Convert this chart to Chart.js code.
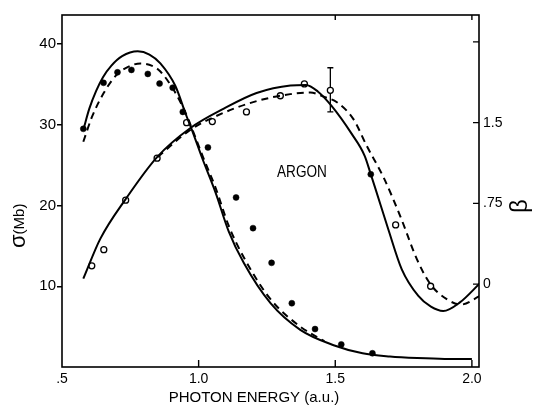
<!DOCTYPE html>
<html>
<head>
<meta charset="utf-8">
<script src="https://cdn.jsdelivr.net/npm/chart.js@4.4.0/dist/chart.umd.min.js"></script>
<style>
    html, body { margin: 0; padding: 0; background: #fff; }
    canvas { display: block; }
</style>
</head>
<body>
<canvas id="grafico" width="537" height="406"></canvas>
<script>
// sigma (Mb) - theory, solid and dashed
var sigmaSolidX = [0.579, 0.60, 0.625, 0.65, 0.68, 0.72, 0.777, 0.82, 0.86, 0.915, 0.952, 0.975, 1.015, 1.062, 1.11, 1.165, 1.263, 1.372, 1.494, 1.60, 1.70, 1.80, 1.90, 2.00];
var sigmaSolidY = [29.5, 32.0, 34.2, 35.9, 37.3, 38.5, 39.1, 38.7, 37.6, 34.8, 31.4, 29.4, 25.7, 21.6, 16.8, 12.9, 7.9, 4.6, 2.7, 1.7, 1.3, 1.1, 1.0, 1.0];
var sigmaDashX = [0.578, 0.61, 0.652, 0.70, 0.75, 0.787, 0.83, 0.86, 0.909, 0.952, 0.975, 1.015, 1.062, 1.11, 1.165, 1.263, 1.372, 1.46];
var sigmaDashY = [27.9, 31.0, 33.9, 36.2, 37.3, 37.6, 37.3, 36.6, 34.3, 31.5, 29.6, 26.1, 22.2, 17.5, 13.6, 8.4, 5.0, 3.2];

// sigma - measured (filled dots)
var sigmaDataX = [0.578, 0.652, 0.703, 0.754, 0.814, 0.857, 0.905, 0.942, 1.034, 1.137, 1.199, 1.267, 1.341, 1.426, 1.522, 1.636];
var sigmaDataY = [29.5, 35.2, 36.5, 36.8, 36.3, 35.1, 34.6, 31.6, 27.2, 21.0, 17.2, 12.9, 7.9, 4.7, 2.8, 1.7];

// beta - theory, solid and dashed
var betaSolidX = [0.578, 0.64, 0.733, 0.848, 0.97, 1.092, 1.212, 1.336, 1.393, 1.436, 1.485, 1.559, 1.608, 1.63, 1.644, 1.694, 1.743, 1.804, 1.85, 1.895, 1.956, 2.03];
var betaSolidY = [0.05, 0.42, 0.79, 1.18, 1.45, 1.63, 1.775, 1.845, 1.85, 1.79, 1.66, 1.40, 1.19, 1.02, 0.91, 0.51, 0.14, -0.11, -0.21, -0.25, -0.17, 0.01];
var betaDashX = [0.85, 0.968, 1.09, 1.212, 1.335, 1.409, 1.458, 1.506, 1.567, 1.616, 1.677, 1.738, 1.799, 1.848, 1.908, 1.96, 2.03];
var betaDashY = [1.18, 1.43, 1.59, 1.70, 1.765, 1.78, 1.74, 1.69, 1.53, 1.28, 0.99, 0.63, 0.23, 0.00, -0.14, -0.19, -0.11];

// beta - measured (open circles) + one filled point
var betaDataX = [0.609, 0.653, 0.733, 0.848, 0.956, 1.050, 1.175, 1.299, 1.387, 1.482, 1.721, 1.849];
var betaDataY = [0.17, 0.32, 0.78, 1.17, 1.50, 1.51, 1.60, 1.75, 1.86, 1.80, 0.55, -0.02];
var betaFilledX = [1.63];
var betaFilledY = [1.02];

// error bar on the beta point at 1.482
var errX = [1.482];
var errLow = [1.60];
var errHigh = [2.01];

// ticks
var xTicks = [0.5, 1.0, 1.5, 2.0];
var xTickLabels = ['.5', '1.0', '1.5', '2.0'];
var sigmaTicks = [10, 20, 30, 40];
var sigmaTickLabels = ['10', '20', '30', '40'];
var betaTicks = [0, 0.75, 1.5, 2.25];
var betaTickLabels = ['0', '.75', '1.5', ''];

var fonte = "'Liberation Sans', Arial, sans-serif";

function pares(xs, ys) {
    var lista = [];
    for (var i = 0; i < xs.length; i++) {
        lista.push({ x: xs[i], y: ys[i] });
    }
    return lista;
}

function rotulo(valores, textos) {
    return function (value) {
        for (var i = 0; i < valores.length; i++) {
            if (Math.abs(valores[i] - value) < 1e-6) return textos[i];
        }
        return '';
    };
}

function fixarTicks(valores) {
    return function (scale) {
        scale.ticks = valores.map(function (v) { return { value: v }; });
    };
}

// frame, inward ticks, titles and labels
var moldura = {
    id: 'moldura',
    beforeDatasetsDraw: function (chart) {
        var ctx = chart.ctx;
        var sx = chart.scales.x;
        var sb = chart.scales.y2;
        ctx.save();
        ctx.strokeStyle = '#000';
        ctx.lineWidth = 1.3;
        ctx.beginPath();
        for (var i = 0; i < errX.length; i++) {
            var px = sx.getPixelForValue(errX[i]);
            var lo = sb.getPixelForValue(errLow[i]);
            var hi = sb.getPixelForValue(errHigh[i]);
            ctx.moveTo(px, lo); ctx.lineTo(px, hi);
            ctx.moveTo(px - 3, lo); ctx.lineTo(px + 3, lo);
            ctx.moveTo(px - 3, hi); ctx.lineTo(px + 3, hi);
        }
        ctx.stroke();
        ctx.restore();
    },
    afterDraw: function (chart) {
        var ctx = chart.ctx;
        var area = chart.chartArea;
        var sx = chart.scales.x;
        var sy = chart.scales.y;
        var sb = chart.scales.y2;
        ctx.save();
        ctx.strokeStyle = '#000';
        ctx.lineWidth = 1.6;
        ctx.strokeRect(area.left, area.top, area.right - area.left, area.bottom - area.top);

        ctx.lineWidth = 1.4;
        ctx.beginPath();
        for (var i = 1; i < xTicks.length; i++) {
            var px = sx.getPixelForValue(xTicks[i]);
            ctx.moveTo(px, area.bottom); ctx.lineTo(px, area.bottom - 7);
            if (xTicks[i] >= 1.5) {
                ctx.moveTo(px, area.top); ctx.lineTo(px, area.top + 5);
            }
        }
        for (var j = 0; j < betaTicks.length; j++) {
            var py = sb.getPixelForValue(betaTicks[j]);
            ctx.moveTo(area.right, py); ctx.lineTo(area.right - 6, py);
        }
        ctx.stroke();

        ctx.fillStyle = '#000';
        ctx.textBaseline = 'middle';

        // ARGON (a bit condensed, like the original lettering)
        ctx.save();
        ctx.translate(sx.getPixelForValue(1.378), sy.getPixelForValue(24.1));
        ctx.scale(0.85, 1);
        ctx.textAlign = 'center';
        ctx.font = '16px ' + fonte;
        ctx.fillText('ARGON', 0, 0);
        ctx.restore();

        // x title
        ctx.textAlign = 'center';
        ctx.font = '15px ' + fonte;
        ctx.fillText('PHOTON ENERGY (a.u.)', 254, 398);

        // left title, rotated
        ctx.save();
        ctx.translate(19, 248);
        ctx.rotate(-Math.PI / 2);
        ctx.textAlign = 'left';
        ctx.font = '22px ' + fonte;
        ctx.fillText('σ', 0, 0);
        var w = ctx.measureText('σ').width;
        ctx.font = '15px ' + fonte;
        ctx.fillText('(Mb)', w, 1);
        ctx.restore();

        // right title
        ctx.save();
        ctx.translate(520, 206);
        ctx.rotate(-Math.PI / 2);
        ctx.textAlign = 'center';
        ctx.font = '24px ' + fonte;
        ctx.fillText('β', 0, 0);
        ctx.restore();

        ctx.restore();
    }
};

var config = {
    type: 'line',
    data: {
        datasets: [
            {
                label: 'sigma teoria',
                data: pares(sigmaSolidX, sigmaSolidY),
                yAxisID: 'y',
                borderColor: '#000',
                borderWidth: 2,
                pointRadius: 0,
                cubicInterpolationMode: 'monotone'
            },
            {
                label: 'sigma teoria tracejada',
                data: pares(sigmaDashX, sigmaDashY),
                yAxisID: 'y',
                borderColor: '#000',
                borderWidth: 2,
                borderDash: [7, 5],
                pointRadius: 0,
                cubicInterpolationMode: 'monotone'
            },
            {
                label: 'beta teoria',
                data: pares(betaSolidX, betaSolidY),
                yAxisID: 'y2',
                borderColor: '#000',
                borderWidth: 2,
                pointRadius: 0,
                cubicInterpolationMode: 'monotone'
            },
            {
                label: 'beta teoria tracejada',
                data: pares(betaDashX, betaDashY),
                yAxisID: 'y2',
                borderColor: '#000',
                borderWidth: 2,
                borderDash: [7, 5],
                pointRadius: 0,
                cubicInterpolationMode: 'monotone'
            },
            {
                label: 'sigma medido',
                data: pares(sigmaDataX, sigmaDataY),
                yAxisID: 'y',
                showLine: false,
                pointRadius: 3,
                pointBackgroundColor: '#000',
                pointBorderColor: '#000',
                pointBorderWidth: 0.5
            },
            {
                label: 'beta medido',
                data: pares(betaDataX, betaDataY),
                yAxisID: 'y2',
                showLine: false,
                pointRadius: 3,
                pointBackgroundColor: '#fff',
                pointBorderColor: '#000',
                pointBorderWidth: 1.3
            },
            {
                label: 'beta medido cheio',
                data: pares(betaFilledX, betaFilledY),
                yAxisID: 'y2',
                showLine: false,
                pointRadius: 3,
                pointBackgroundColor: '#000',
                pointBorderColor: '#000',
                pointBorderWidth: 0.5
            }
        ]
    },
    options: {
        responsive: false,
        animation: false,
        devicePixelRatio: 1,
        layout: { padding: { top: 15, left: 0, right: 0, bottom: 0 } },
        plugins: {
            legend: { display: false },
            tooltip: { enabled: false }
        },
        scales: {
            x: {
                type: 'linear',
                position: 'bottom',
                min: 0.5,
                max: 2.026,
                afterBuildTicks: fixarTicks(xTicks),
                afterFit: function (scale) { scale.height = 39; },
                grid: { display: false, drawTicks: false },
                border: { display: false },
                ticks: {
                    callback: rotulo(xTicks, xTickLabels),
                    padding: 4,
                    maxRotation: 0,
                    color: '#000',
                    font: { family: fonte, size: 14 }
                }
            },
            y: {
                type: 'linear',
                position: 'left',
                min: 0,
                max: 43.6,
                afterBuildTicks: fixarTicks(sigmaTicks),
                afterFit: function (scale) { scale.width = 62; },
                grid: {
                    display: true,
                    drawOnChartArea: false,
                    drawTicks: true,
                    tickLength: 5,
                    color: '#000',
                    lineWidth: 1.5
                },
                border: { display: false },
                ticks: {
                    callback: rotulo(sigmaTicks, sigmaTickLabels),
                    padding: 1,
                    color: '#000',
                    font: { family: fonte, size: 15 }
                }
            },
            y2: {
                type: 'linear',
                position: 'right',
                min: -0.77,
                max: 2.50,
                afterBuildTicks: fixarTicks(betaTicks),
                afterFit: function (scale) { scale.width = 58; },
                grid: { display: false, drawTicks: false },
                border: { display: false },
                ticks: {
                    callback: rotulo(betaTicks, betaTickLabels),
                    padding: 4,
                    color: '#000',
                    font: { family: fonte, size: 14 }
                }
            }
        }
    },
    plugins: [moldura]
};

window.grafico = new Chart(document.getElementById('grafico').getContext('2d'), config);
</script>
</body>
</html>
